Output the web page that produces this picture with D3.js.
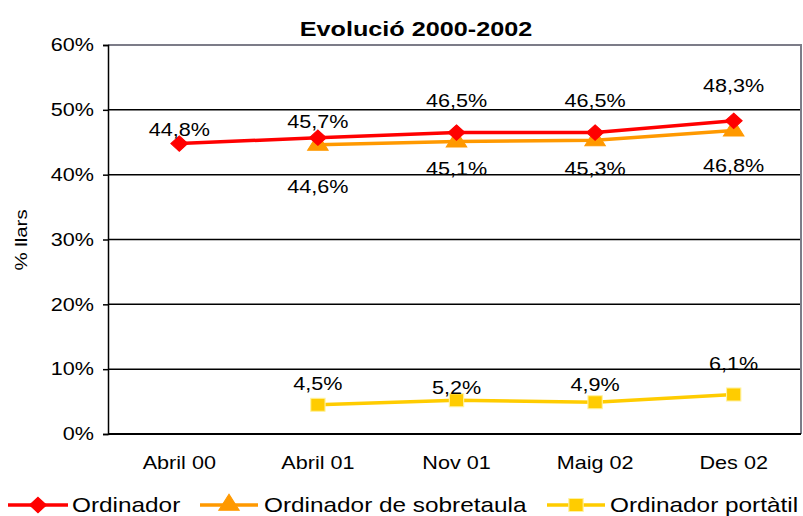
<!DOCTYPE html>
<html>
<head>
<meta charset="utf-8">
<script src="https://cdn.jsdelivr.net/npm/d3@7"></script>
<style>
  body { margin: 0; background: #fff; }
  svg { display: block; font-family: "Liberation Sans", Arial, sans-serif; }
</style>
</head>
<body>
<svg id="chart" width="803" height="516"></svg>
<script>
// chart values
var categories = ["Abril 00", "Abril 01", "Nov 01", "Maig 02", "Des 02"];
var ordinador = [44.8, 45.7, 46.5, 46.5, 48.3];
var sobretaula = [null, 44.6, 45.1, 45.3, 46.8];
var portatil = [null, 4.5, 5.2, 4.9, 6.1];
var yTicks = [0, 10, 20, 30, 40, 50, 60];
var seriesNames = ["Ordinador", "Ordinador de sobretaula", "Ordinador portàtil"];

// manual label nudges (pixels, like the hand placed excel labels)
var ordDy = [-14, -16, -32, -32, -35];
var sobDy = [0, 42, 27, 28, 35];
var portDy = [0, -21, -13, -18, -31];

var svg = d3.select("#chart");
var pLeft = 108, pRight = 801, pTop = 45, pBottom = 434;
var sx = 1.2; // text in the picture is stretched wide

var x = d3.scaleBand().domain(categories).range([pLeft + 2, pRight + 2]);
var y = d3.scaleLinear().domain([0, 60]).range([pBottom, pTop]);
function cx(c) { return x(c) + x.bandwidth() / 2; }
function fmt(v) { return String(v).replace(".", ",") + "%"; }

function label(g, tx, ty, txt, size, weight, anchor) {
    return g.append("text")
        .attr("transform", "translate(" + tx + "," + ty + ") scale(" + sx + ",1)")
        .attr("text-anchor", anchor || "middle")
        .attr("dy", "0.35em")
        .attr("font-size", size)
        .attr("font-weight", weight || "normal")
        .attr("fill", "#000")
        .text(txt);
}

// gridlines
svg.append("g").selectAll("line")
    .data(yTicks.filter(function(d) { return d > 0 && d < 60; }))
    .enter().append("line")
    .attr("x1", pLeft).attr("x2", pRight)
    .attr("y1", function(d) { return y(d); })
    .attr("y2", function(d) { return y(d); })
    .attr("stroke", "#000").attr("stroke-width", 1.5);

// plot border top/right
svg.append("path")
    .attr("d", "M" + pLeft + "," + pTop + "H" + pRight + "V" + pBottom)
    .attr("fill", "none").attr("stroke", "#7c7c88").attr("stroke-width", 2);

// y axis
var ya = svg.append("g").attr("transform", "translate(" + pLeft + ",0)")
    .call(d3.axisLeft(y).tickValues(yTicks).tickSize(5).tickFormat(function(d) { return ""; }));
ya.select(".domain").attr("stroke", "#000").attr("stroke-width", 1.5);
ya.selectAll(".tick line").attr("stroke", "#000").attr("stroke-width", 1.5);
yTicks.forEach(function(t) { label(svg, 94, y(t), t + "%", 18, "normal", "end"); });

// x axis line
svg.append("line").attr("x1", pLeft).attr("x2", pRight)
    .attr("y1", pBottom).attr("y2", pBottom)
    .attr("stroke", "#000").attr("stroke-width", 2);
categories.forEach(function(c) { label(svg, cx(c), 463, c, 18); });

// title and axis title
label(svg, 416, 29, "Evolució 2000-2002", 21, "bold");
svg.append("text")
    .attr("transform", "translate(21,240) rotate(-90) scale(" + sx + ",1)")
    .attr("text-anchor", "middle").attr("dy", "0.35em")
    .attr("font-size", 17).text("% llars");

var line = d3.line()
    .defined(function(d) { return d.v != null; })
    .x(function(d) { return cx(d.c); })
    .y(function(d) { return y(d.v); });

var symDiamond = d3.symbol().type(d3.symbolDiamond2).size(150);
var symTriangle = d3.symbol().type(d3.symbolTriangle).size(150);
var symSquare = d3.symbol().type(d3.symbolSquare).size(170);

var series = [
    { vals: portatil, color: "#ffcc00", sym: symSquare, dy: portDy, edge: "#fff2a0" },
    { vals: sobretaula, color: "#ff9900", sym: symTriangle, dy: sobDy, edge: "#ff9900" },
    { vals: ordinador, color: "#ff0000", sym: symDiamond, dy: ordDy, edge: "#ff0000" }
];

series.forEach(function(s) {
    var pts = categories.map(function(c, i) { return { c: c, v: s.vals[i], dy: s.dy[i] }; });
    svg.append("path").datum(pts)
        .attr("d", line).attr("fill", "none")
        .attr("stroke", s.color).attr("stroke-width", 3.5);
    var valid = pts.filter(function(d) { return d.v != null; });
    svg.append("g").selectAll("path").data(valid).enter().append("path")
        .attr("d", s.sym)
        .attr("transform", function(d) { return "translate(" + cx(d.c) + "," + y(d.v) + ") scale(1.1,1)"; })
        .attr("fill", s.color).attr("stroke", s.edge).attr("stroke-width", 1);
    valid.forEach(function(d) { label(svg, cx(d.c), y(d.v) + d.dy, fmt(d.v), 18); });
});

// legend
var legY = 505;
var legItems = [
    { name: seriesNames[0], color: "#ff0000", sym: symDiamond, x0: 8, x1: 68, tx: 72, edge: "#ff0000" },
    { name: seriesNames[1], color: "#ff9900", sym: symTriangle, x0: 200, x1: 258, tx: 264, edge: "#ff9900" },
    { name: seriesNames[2], color: "#ffcc00", sym: symSquare, x0: 547, x1: 605, tx: 610, edge: "#fff2a0" }
];
legItems.forEach(function(it) {
    svg.append("line").attr("x1", it.x0).attr("x2", it.x1)
        .attr("y1", legY).attr("y2", legY)
        .attr("stroke", it.color).attr("stroke-width", 3.5);
    svg.append("path").attr("d", it.sym)
        .attr("transform", "translate(" + (it.x0 + it.x1) / 2 + "," + legY + ") scale(1.1,1)")
        .attr("fill", it.color).attr("stroke", it.edge);
    label(svg, it.tx, legY, it.name, 20.3, "normal", "start");
});
</script>
</body>
</html>
